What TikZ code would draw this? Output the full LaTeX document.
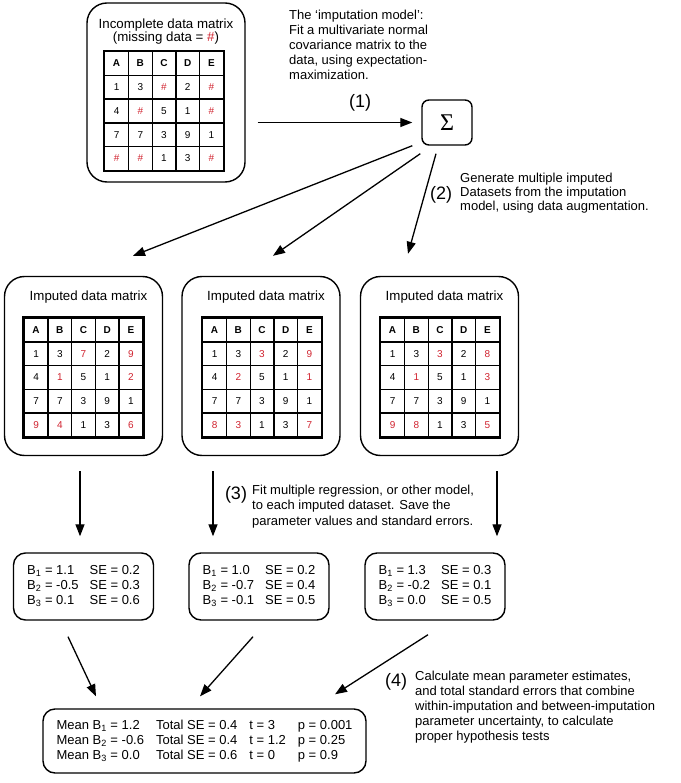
\documentclass[tikz,border=0pt]{standalone}
\usepackage{fontspec}
\setmainfont{Liberation Sans}
\newfontfamily\sigmafont{Liberation Serif}
\definecolor{imputered}{HTML}{D0222E}
\usetikzlibrary{arrows.meta, matrix, calc}
\newcommand{\Bsub}[1]{B\textsubscript{#1}}

\begin{document}
\begin{tikzpicture}[
    x=1pt, y=-1pt,
    panel/.style={
      draw, line width=1.4pt, rounded corners=20pt,
      minimum width=158pt, minimum height=179pt, inner sep=0pt
    },
    paneltitle/.style={font=\fontsize{13.3}{13.5}\selectfont, align=center, inner sep=0pt},
    cell/.style={
      draw, line width=1.3pt, minimum size=23.7pt, inner sep=0pt,
      font=\fontsize{10}{12}\selectfont
    },
    datagrid/.style={
      matrix of nodes, nodes={cell}, column sep=-1.3pt, row sep=-1.3pt,
      row 1/.style={nodes={font=\fontsize{10}{12}\selectfont\bfseries}}
    },
    miss/.style={text=imputered},
    result/.style={
      draw, line width=1.4pt, rounded corners=12pt, inner sep=0pt,
      minimum width=140pt, minimum height=67pt, font=\fontsize{13}{15}\selectfont
    },
    note/.style={font=\fontsize{13}{15}\selectfont, align=left, inner sep=0pt, anchor=west},
    stepno/.style={font=\fontsize{18}{18}\selectfont, inner sep=0pt},
    flow/.style={->, line width=1.3pt},
    >={Triangle[length=12pt,width=9pt]}
  ]
    \useasboundingbox (0,0) rectangle (680,783);

    \node[panel] (inc) at (166,92.5) {};
    \node[paneltitle] at (166,31.5) {Incomplete data matrix\\(missing data = {\color{imputered}\#})};
    \matrix (t0) [datagrid] at (164,111) {
      A & B & C & D & E \\
      1 & 3 & |[miss]| \# & 2 & |[miss]| \# \\
      4 & |[miss]| \# & 5 & 1 & |[miss]| \# \\
      7 & 7 & 3 & 9 & 1 \\
      |[miss]| \# & |[miss]| \# & 1 & 3 & |[miss]| \# \\
    };
    \draw[line width=2.4pt] (t0-1-1.north west) rectangle (t0-5-5.south east);

    \node[draw, line width=1.4pt, rounded corners=7pt, minimum width=50pt, minimum height=45pt,
      font=\sigmafont\fontsize{24}{24}\selectfont] (sig) at (447,122.5) {Σ};

    \node[note] at (289,45) {The ‘imputation model’:\\Fit a multivariate normal\\covariance matrix to the\\data, using expectation-\\maximization.};
    \node[stepno] at (360,103) {(1)};
    \draw[flow] ($(inc.east |- sig.west)+(12,0)$) -- ($(sig.west)+(-9,0)$);

    \node[stepno] at (441,195) {(2)};
    \node[note, font=\fontsize{13}{14}\selectfont] at (460,193) {Generate multiple imputed\\Datasets from the imputation\\model, using data augmentation.};

    \node[panel] (m1) at (83.5,366) {};
    \node[paneltitle] at (88.5,297) {Imputed data matrix};
    \matrix (t1) [datagrid] at (83.5,377.5) {
      A & B & C & D & E \\
      1 & 3 & |[miss]| 7 & 2 & |[miss]| 9 \\
      4 & |[miss]| 1 & 5 & 1 & |[miss]| 2 \\
      7 & 7 & 3 & 9 & 1 \\
      |[miss]| 9 & |[miss]| 4 & 1 & 3 & |[miss]| 6 \\
    };
    \draw[line width=2.4pt] (t1-1-1.north west) rectangle (t1-5-5.south east);

    \node[panel] (m2) at (261,366) {};
    \node[paneltitle] at (266,297) {Imputed data matrix};
    \matrix (t2) [datagrid] at (262,377.5) {
      A & B & C & D & E \\
      1 & 3 & |[miss]| 3 & 2 & |[miss]| 9 \\
      4 & |[miss]| 2 & 5 & 1 & |[miss]| 1 \\
      7 & 7 & 3 & 9 & 1 \\
      |[miss]| 8 & |[miss]| 3 & 1 & 3 & |[miss]| 7 \\
    };
    \draw[line width=2.4pt] (t2-1-1.north west) rectangle (t2-5-5.south east);

    \node[panel] (m3) at (439.5,366) {};
    \node[paneltitle] at (444.5,297) {Imputed data matrix};
    \matrix (t3) [datagrid] at (440,377.5) {
      A & B & C & D & E \\
      1 & 3 & |[miss]| 3 & 2 & |[miss]| 8 \\
      4 & |[miss]| 1 & 5 & 1 & |[miss]| 3 \\
      7 & 7 & 3 & 9 & 1 \\
      |[miss]| 9 & |[miss]| 8 & 1 & 3 & |[miss]| 5 \\
    };
    \draw[line width=2.4pt] (t3-1-1.north west) rectangle (t3-5-5.south east);

    \draw[flow] ($(sig.south west)+(-9,0)$) -- ($(m1.north)+(49.5,-20)$);
    \draw[flow] ($(sig.south west)+(-1,8)$) -- ($(m2.north)+(12,-20)$);
    \draw[flow] ($(sig.south)+(-11,8)$) -- ($(m3.north)+(-31.5,-22)$);

    \node[result] (r1) at (83.5,586.5) {\begin{tabular}{@{}l@{\hspace{11pt}}l@{}}
      \Bsub{1} = 1.1 & SE = 0.2\\ \Bsub{2} = -0.5 & SE = 0.3\\ \Bsub{3} = 0.1 & SE = 0.6
    \end{tabular}};
    \node[result] (r2) at (259,586.5) {\begin{tabular}{@{}l@{\hspace{11pt}}l@{}}
      \Bsub{1} = 1.0 & SE = 0.2\\ \Bsub{2} = -0.7 & SE = 0.4\\ \Bsub{3} = -0.1 & SE = 0.5
    \end{tabular}};
    \node[result] (r3) at (435,586.5) {\begin{tabular}{@{}l@{\hspace{11pt}}l@{}}
      \Bsub{1} = 1.3 & SE = 0.3\\ \Bsub{2} = -0.2 & SE = 0.1\\ \Bsub{3} = 0.0 & SE = 0.5
    \end{tabular}};

    \draw[flow] ($(m1.south)+(-3.5,15)$) -- ($(r1.north)+(-3.5,-16)$);
    \draw[flow] ($(m2.south)+(-48,15)$) -- ($(r2.north)+(-46,-16)$);
    \draw[flow] ($(m3.south)+(57.5,15)$) -- ($(r3.north)+(62,-16)$);

    \node[stepno] at (236,495) {(3)};
    \node[note, font=\fontsize{13}{15.5}\selectfont] at (252,506.5) {Fit multiple regression, or other model,\\to each imputed dataset. Save the\\parameter values and standard errors.};

    \node[result, minimum width=323pt, minimum height=64pt] (tot) at (204.5,741) {\begin{tabular}{@{}l@{\hspace{12pt}}l@{\hspace{12pt}}l@{\hspace{12pt}}l@{}}
      Mean \Bsub{1} = 1.2 & Total SE = 0.4 & t = 3 & p = 0.001\\
      Mean \Bsub{2} = -0.6 & Total SE = 0.4 & t = 1.2 & p = 0.25\\
      Mean \Bsub{3} = 0.0 & Total SE = 0.6 & t = 0 & p = 0.9
    \end{tabular}};

    \draw[flow] ($(r1.south)+(-15.5,16)$) -- ($(tot.north)+(-108.5,-12)$);
    \draw[flow] ($(r2.south)+(-6,16)$) -- ($(tot.north)+(-4.5,-12)$);
    \draw[flow] ($(r3.south)+(-7,14)$) -- ($(tot.north)+(130.5,-14)$);

    \node[stepno] at (396,682) {(4)};
    \node[note] at (415,707) {Calculate mean parameter estimates,\\and total standard errors that combine\\within-imputation and between-imputation\\parameter uncertainty, to calculate\\proper hypothesis tests};
  \end{tikzpicture}
\end{document}
